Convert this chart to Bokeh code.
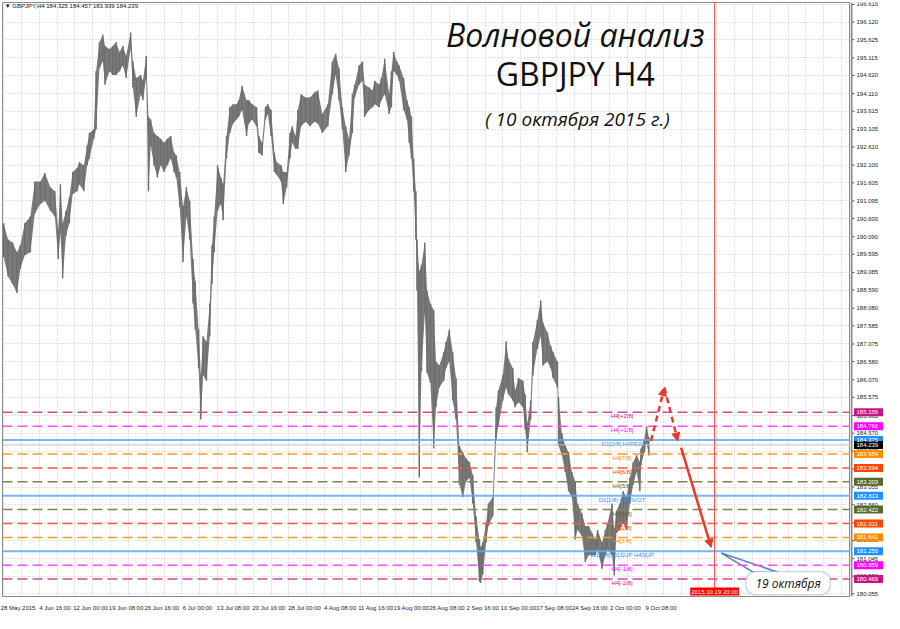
from bokeh.plotting import figure
from bokeh.layouts import row
from bokeh.models import (FixedTicker, Span, Label, Arrow, NormalHead, BoxAnnotation,
                          ColumnDataSource)
from bokeh.core.properties import value
from bokeh.embed import file_html
from bokeh.resources import INLINE

# ---------------- data ----------------
bar_idx = [1, 5, 9, 13, 16, 20, 25, 29, 34, 38,
           43, 47, 50, 52, 54, 57, 60, 63, 67, 69,
           73, 76, 78, 82, 84, 87, 90, 92, 96, 99,
           102, 105, 108, 111, 115, 117, 120, 124, 126, 129,
           131, 133, 136, 139, 142, 145, 148, 151, 154, 156,
           159, 162, 165, 168, 171, 173, 176, 178, 180, 183,
           186, 188, 190, 193, 196, 198, 201, 204, 207, 210,
           212, 215, 219, 221, 224, 228, 230, 233, 236, 238,
           241, 244, 246, 250, 252, 255, 258, 260, 263, 265,
           268, 272, 276, 280, 283, 287, 292, 296, 299, 302,
           305, 308, 311, 314, 316, 320, 323, 325, 329, 332,
           334, 338, 340, 343, 347, 349, 351, 354, 356, 360,
           363, 365, 367, 369, 371, 372, 374, 376, 379, 381,
           384, 387, 389, 392, 396, 398, 401, 404, 407, 410,
           413, 416, 419, 422, 425, 428, 429, 431, 434, 436,
           440, 443, 445, 449, 452, 454, 458, 460, 463, 467,
           469, 471, 474, 476, 480, 483, 485, 489, 492, 494,
           498, 499, 502, 505, 508, 511, 514, 516, 520, 523,
           526, 529, 532, 534, 538, 541, 543, 547, 549, 551,
           554, 557, 560, 563, 566, 569, 572, 573, 576, 578,
           580]

bar_high = [190.47, 190.01, 189.93, 189.65, 189.85, 190.47, 190.66, 191.64, 191.64, 191.88,
            191.48, 191.37, 190.28, 191.56, 190.47, 190.82, 191.20, 191.91, 192.02, 192.18,
            192.10, 192.65, 193.00, 193.11, 194.74, 195.55, 195.77, 195.45, 195.36, 195.45,
            195.55, 195.28, 195.45, 195.17, 195.83, 195.01, 194.55, 194.63, 194.47, 195.17,
            193.46, 193.38, 193.00, 192.92, 192.84, 192.73, 192.84, 192.92, 192.45, 192.37,
            191.91, 190.93, 191.48, 191.10, 189.46, 188.84, 187.48, 186.20, 187.29, 187.13,
            188.21, 189.85, 190.66, 192.10, 191.75, 191.56, 192.92, 193.73, 193.81, 193.81,
            193.92, 194.33, 193.92, 193.92, 193.81, 193.73, 192.92, 192.73, 193.73, 193.81,
            193.65, 192.45, 192.18, 192.10, 191.91, 191.91, 193.00, 193.19, 192.92, 193.65,
            194.09, 194.00, 194.00, 194.14, 194.20, 193.54, 193.81, 195.01, 195.23, 194.82,
            193.73, 193.19, 192.84, 194.09, 194.36, 194.90, 195.01, 194.36, 194.28, 194.20,
            194.47, 194.36, 194.55, 195.09, 194.09, 194.74, 195.28, 195.01, 194.90, 194.55,
            193.92, 193.73, 193.46, 192.29, 191.37, 190.01, 189.11, 189.30, 189.93, 188.57,
            188.21, 188.02, 186.58, 186.47, 186.85, 187.13, 187.48, 186.85, 186.12, 184.22,
            184.03, 183.86, 183.76, 183.40, 182.23, 181.58, 181.36, 181.50, 182.04, 182.59,
            182.77, 185.30, 185.77, 186.20, 187.15, 186.66, 186.39, 185.77, 186.12, 186.04,
            185.66, 184.84, 185.49, 187.13, 187.75, 188.30, 187.67, 187.40, 187.02, 186.85,
            186.58, 185.58, 184.57, 184.22, 184.03, 183.48, 183.21, 182.59, 182.31, 181.96,
            181.96, 181.77, 181.58, 181.85, 181.50, 181.85, 182.04, 182.59, 181.85, 182.39,
            182.59, 182.94, 182.77, 183.32, 183.76, 183.95, 183.76, 184.14, 184.41, 184.76,
            184.46]

bar_low = [189.52, 188.97, 188.76, 188.51, 189.19, 189.57, 189.65, 190.74, 191.01, 191.10,
           190.82, 190.66, 189.46, 190.20, 188.92, 190.12, 190.47, 191.29, 191.37, 191.56,
           191.37, 192.10, 192.29, 192.84, 193.11, 194.82, 195.01, 194.36, 194.74, 194.63,
           194.63, 194.74, 194.90, 194.55, 195.36, 194.28, 193.46, 194.09, 193.92, 194.55,
           191.37, 192.65, 192.10, 191.75, 192.10, 191.91, 192.10, 192.29, 191.91, 191.75,
           190.93, 189.38, 190.66, 190.01, 188.21, 187.48, 186.39, 184.95, 186.20, 186.04,
           187.29, 188.76, 189.65, 190.82, 191.01, 190.55, 192.29, 193.00, 193.27, 193.38,
           193.46, 193.65, 192.92, 193.27, 193.38, 193.19, 192.45, 192.37, 193.38, 193.54,
           192.92, 191.91, 191.83, 191.64, 191.01, 191.48, 192.29, 192.73, 192.56, 192.56,
           193.19, 193.32, 193.19, 193.32, 193.27, 193.00, 193.19, 194.09, 194.63, 193.92,
           193.11, 191.91, 192.37, 193.00, 194.00, 194.36, 194.47, 193.46, 193.65, 193.73,
           193.81, 193.73, 193.92, 194.09, 193.54, 193.73, 194.74, 194.63, 194.47, 193.65,
           193.38, 192.73, 192.29, 191.37, 190.01, 188.57, 183.32, 186.31, 187.94, 186.26,
           185.98, 184.14, 185.30, 185.85, 186.04, 186.39, 186.58, 185.49, 184.95, 183.13,
           182.77, 183.21, 183.32, 182.59, 181.50, 180.41, 180.36, 180.60, 181.50, 181.96,
           182.23, 184.41, 184.76, 185.49, 185.85, 185.66, 185.49, 185.30, 185.44, 185.30,
           184.68, 184.03, 184.95, 186.20, 186.94, 187.29, 186.47, 186.58, 186.39, 186.12,
           185.85, 184.22, 183.95, 183.48, 182.94, 182.77, 181.58, 181.85, 181.69, 180.95,
           181.14, 181.14, 181.14, 181.31, 180.76, 181.14, 181.31, 181.14, 180.57, 181.77,
           181.85, 182.04, 181.85, 182.59, 183.13, 183.48, 182.94, 183.67, 184.03, 184.30,
           183.94]

price_ticks = [196.615, 196.120, 195.625, 195.115, 194.620, 194.110, 193.615, 193.105,
               192.610, 192.100, 191.605, 191.095, 190.600, 190.090, 189.595, 189.085,
               188.590, 188.080, 187.585, 187.075, 186.580, 186.070, 185.575, 185.065,
               184.570, 184.060, 183.565, 183.055, 182.560, 182.050, 181.555, 181.045,
               180.550, 180.055]

time_tick_bars = [0, 33, 65, 97, 129, 161, 193, 225, 257, 289, 321, 353, 385, 417,
                  449, 481, 513, 545, 577]
time_labels = ["28 May 2015", "4 Jun 16:00", "12 Jun 00:00", "19 Jun 08:00", "26 Jun 16:00",
               "6 Jul 00:00", "13 Jul 08:00", "20 Jul 16:00", "28 Jul 00:00", "4 Aug 08:00",
               "11 Aug 16:00", "19 Aug 00:00", "26 Aug 08:00", "2 Sep 16:00", "10 Sep 00:00",
               "17 Sep 08:00", "24 Sep 16:00", "2 Oct 00:00", "9 Oct 08:00"]

level_prices = [185.156, 184.766, 184.375, 183.984, 183.594, 183.203, 182.813,
                182.422, 182.031, 181.641, 181.250, 180.859, 180.469]
level_names = ["H4[+2/8]", "H4[+1/8]", "D1[2/8] H4RES", "H4[7/8]", "H4[6/8]", "H4[5/8]",
               "D1[1/8] H4PIVOT", "H4[3/8]", "H4[2/8]", "H4[1/8]", "W1[2/8] D1SUP H4SUP",
               "H4[-1/8]", "H4[-2/8]"]
level_kind = ["pink", "magenta", "blue", "orange", "red", "olive", "blue",
              "olive", "red", "orange", "blue", "magenta", "pink"]

bid_price = 184.239
info_text = "\u25bc GBPJPY,H4  184.325 184.457 183.939 184.239"

forecast_x = [582, 594, 606]
forecast_y = [184.35, 185.85, 184.35]
target_x = [609, 636]
target_y = [184.16, 181.36]
target_bar = 639
target_label = "2015.10.19 20:00"

# ---------------- styles ----------------
kind_line = {"pink": "#d8459e", "magenta": "#ff4dff", "blue": "#5aaaf5",
             "orange": "#ff9a2a", "red": "#f0603c", "olive": "#7a8a4a"}
kind_bg = {"pink": "#c71585", "magenta": "#ff00ff", "blue": "#1e90ff",
           "orange": "#ff8c00", "red": "#ff4500", "olive": "#556b2f"}
small_font = "Liberation Sans"
X_END = 761
Y_RANGE = (179.98, 196.67)
TOP, BOTTOM = 2, 14

p = figure(width=850, height=613, x_range=(0, X_END), y_range=Y_RANGE,
           output_backend="svg", toolbar_location=None, y_axis_location=None,
           min_border_left=2, min_border_top=TOP, min_border_right=0, min_border_bottom=BOTTOM,
           background_fill_color="white", border_fill_color="white")
p.outline_line_color = "#8a8a8a"
p.outline_line_width = 1

label_centers = [b + 14 for b in time_tick_bars]
p.xaxis.ticker = FixedTicker(ticks=label_centers)
p.xaxis.major_label_overrides = {c: t for c, t in zip(label_centers, time_labels)}
p.xaxis.major_label_text_font = small_font
p.xaxis.major_label_text_font_size = "6px"
p.xaxis.major_label_text_color = "#222222"
p.xaxis.axis_line_color = "#8a8a8a"
p.xaxis.major_tick_line_color = None
p.xaxis.minor_tick_line_color = None
p.xaxis.major_label_standoff = 2

# grid
p.xgrid.ticker = FixedTicker(ticks=list(range(1, X_END, 16)))
p.ygrid.ticker = FixedTicker(ticks=price_ticks)
for g in (p.xgrid, p.ygrid):
    g.grid_line_color = "#c4c4c4"
    g.grid_line_dash = "1 2"
    g.grid_line_width = 1

# price bars
src = ColumnDataSource(dict(x=bar_idx, hi=bar_high, lo=bar_low))
p.varea(x="x", y1="lo", y2="hi", source=src, fill_color="#7b7b7b")
p.segment(x0="x", y0="lo", x1="x", y1="hi", source=src, line_color="#6e6e6e", line_width=1.5)

# levels
for pr, kind in zip(level_prices, level_kind):
    if kind == "blue":
        p.add_layout(Span(location=pr, dimension="width", line_color=kind_line[kind],
                          line_width=2, line_alpha=0.85))
    else:
        p.add_layout(Span(location=pr, dimension="width", line_color=kind_line[kind],
                          line_width=1.5, line_dash="10 5"))
p.add_layout(Span(location=bid_price, dimension="width", line_color="#c0c0c0", line_width=1))

p.text(x=[556] * len(level_prices), y=level_prices, text=level_names,
       text_color=[kind_bg[k] for k in level_kind], text_align="center",
       text_baseline="top", y_offset=1, text_font=value(small_font),
       text_font_size=value("6px"))

# future time line
p.add_layout(Span(location=target_bar, dimension="height", line_color="#f05050", line_width=1))
p.add_layout(Label(x=target_bar, y=Y_RANGE[0], y_offset=1, text=target_label,
                   text_font=small_font, text_font_size="6px", text_color="white",
                   text_align="center", text_baseline="bottom",
                   background_fill_color="#ff0000", padding=1))

# forecast arrows
red = "#e8392a"
p.add_layout(Arrow(x_start=forecast_x[0], y_start=forecast_y[0], x_end=forecast_x[1],
                   y_end=forecast_y[1], line_color=red, line_width=2.5, line_dash="6 4",
                   end=NormalHead(size=8, fill_color=red, line_color=red)))
p.add_layout(Arrow(x_start=forecast_x[1], y_start=forecast_y[1], x_end=forecast_x[2],
                   y_end=forecast_y[2], line_color=red, line_width=2.5, line_dash="6 4",
                   end=NormalHead(size=8, fill_color=red, line_color=red)))
p.add_layout(Arrow(x_start=target_x[0], y_start=target_y[0], x_end=target_x[1],
                   y_end=target_y[1], line_color=red, line_width=2.5,
                   end=NormalHead(size=8, fill_color=red, line_color=red)))

# callout
p.patch(x=[645, 674, 696], y=[181.20, 180.66, 180.66], fill_color="white",
        line_color="#5b7cc0", line_width=1.5)
p.add_layout(BoxAnnotation(left=667, right=743, bottom=180.03, top=180.68,
                           fill_color="white", fill_alpha=1, line_color="#5b7cc0",
                           line_width=1.5, border_radius=10))
p.add_layout(Label(x=705, y=180.35, text="19 октября", text_font="Open Sans",
                   text_font_style="italic", text_font_size="12px", text_color="#111111",
                   text_align="center", text_baseline="middle"))

# title texts
p.add_layout(Label(x=514, y=195.77, text="Волновой анализ", text_font="Open Sans",
                   text_font_style="italic", text_font_size="32px", text_color="#111111",
                   text_align="center", text_baseline="middle"))
p.add_layout(Label(x=514, y=194.68, text="GBPJPY H4", text_font="Open Sans",
                   text_font_size="32px", text_color="#111111",
                   text_align="center", text_baseline="middle"))
p.add_layout(Label(x=516, y=193.41, text="( 10 октября 2015 г.)", text_font="Open Sans",
                   text_font_style="italic", text_font_size="19px", text_color="#111111",
                   text_align="center", text_baseline="middle"))

# info line
p.add_layout(Label(x=2, y=196.56, text=info_text, text_font=small_font,
                   text_font_size="6px", text_color="#111111", text_align="left",
                   text_baseline="middle"))

# ---------------- price scale column (shares the price scale) ----------------
s = figure(width=34, height=613, x_range=(-1, 33), y_range=p.y_range,
           output_backend="svg", toolbar_location=None, x_axis_location=None,
           y_axis_location=None, min_border_left=0, min_border_right=0,
           min_border_top=TOP, min_border_bottom=BOTTOM,
           background_fill_color="white", border_fill_color="white")
s.outline_line_color = None
s.grid.visible = False
s.add_layout(Span(location=0, dimension="height", line_color="#8a8a8a", line_width=2))
s.segment(x0=[0] * len(price_ticks), y0=price_ticks, x1=[3] * len(price_ticks), y1=price_ticks,
          line_color="#555555", line_width=1)
s.text(x=[5] * len(price_ticks), y=price_ticks, text=[f"{t:.3f}" for t in price_ticks],
       text_font=value(small_font), text_font_size=value("6px"), text_color="#222222",
       text_align="left", text_baseline="middle")

box_prices = level_prices + [bid_price]
box_colors = [kind_bg[k] for k in level_kind] + ["#000000"]
s.rect(x=[17] * len(box_prices), y=box_prices, width=29, height=8, height_units="screen",
       fill_color=box_colors, line_color=None)
s.text(x=[5] * len(box_prices), y=box_prices, text=[f"{b:.3f}" for b in box_prices],
       text_font=value(small_font), text_font_size=value("6px"), text_color="white",
       text_align="left", text_baseline="middle")

layout = row(p, s)
open("out.html", "w").write(file_html(layout, INLINE))
